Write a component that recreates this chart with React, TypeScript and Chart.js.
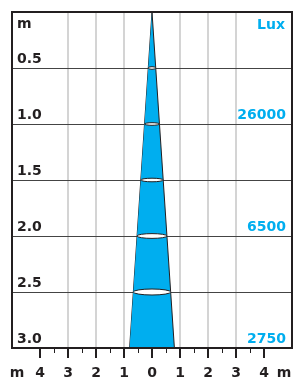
import React, { useEffect, useRef } from 'react';
import { Chart, registerables } from 'chart.js';

Chart.register(...registerables);

// ---- data ----
const distanceValues = [0.5, 1.0, 1.5, 2.0, 2.5, 3.0];
const distanceLabels = ['0.5', '1.0', '1.5', '2.0', '2.5', '3.0'];
const ringDistances = [0.5, 1.0, 1.5, 2.0, 2.5];
const beamDistance = [0, 3];
const beamHalfWidth = [0, 0.8];
const luxDistances = [1, 2, 3];
const luxLabels = ['26000', '6500', '2750'];
const xTickValues = [-4, -3, -2, -1, 0, 1, 2, 3, 4];
const xMinorValues = [-3.5, -2.5, -1.5, -0.5, 0.5, 1.5, 2.5, 3.5];
const xGridValues = [-3, -2, -1, 1, 2, 3];
const unitLabel = 'm';
const luxTitle = 'Lux';

const CYAN = '#00aeef';
const INK = '#231f20';
const FAMILY = '"DejaVu Sans", "Liberation Sans", sans-serif';
const FONT = `bold 14px ${FAMILY}`;

const overlay = {
  id: 'overlay',
  afterDatasetsDraw(chart: any) {
    const { ctx, scales } = chart;
    const x = scales.x;
    const y = scales.y;
    const x0 = x.getPixelForValue(0);
    ctx.save();
    ringDistances.forEach((d) => {
      const hw = (beamHalfWidth[1] * d) / beamDistance[1];
      const rx = x.getPixelForValue(hw) - x0;
      const cy = y.getPixelForValue(d);
      ctx.beginPath();
      ctx.ellipse(x0, cy, rx, Math.max(1.3, rx * 0.16), 0, 0, Math.PI * 2);
      ctx.fillStyle = '#ffffff';
      ctx.fill();
      ctx.lineWidth = 1;
      ctx.strokeStyle = INK;
      ctx.stroke();
    });
    ctx.restore();
  },
  afterDraw(chart: any) {
    const { ctx, chartArea: a, scales } = chart;
    const x = scales.x;
    const y = scales.y;
    ctx.save();
    // frame
    ctx.lineWidth = 2;
    ctx.strokeStyle = INK;
    ctx.strokeRect(a.left, a.top, a.right - a.left, a.bottom - a.top);
    // major ticks
    ctx.lineWidth = 2;
    xTickValues.forEach((v) => {
      const px = Math.round(x.getPixelForValue(v));
      ctx.beginPath();
      ctx.moveTo(px, a.bottom);
      ctx.lineTo(px, a.bottom + 10);
      ctx.stroke();
    });
    // minor ticks
    ctx.lineWidth = 1;
    xMinorValues.forEach((v) => {
      const px = Math.round(x.getPixelForValue(v)) + 0.5;
      ctx.beginPath();
      ctx.moveTo(px, a.bottom);
      ctx.lineTo(px, a.bottom + 5);
      ctx.stroke();
    });
    // labels
    ctx.font = FONT;
    ctx.textBaseline = 'alphabetic';
    ctx.fillStyle = INK;
    ctx.textAlign = 'left';
    ctx.fillText(unitLabel, a.left + 5, a.top + 16);
    distanceValues.forEach((d, i) => {
      ctx.fillText(distanceLabels[i], a.left + 5, y.getPixelForValue(d) - 5);
    });
    ctx.fillStyle = CYAN;
    ctx.textAlign = 'right';
    ctx.fillText(luxTitle, a.right - 7, a.top + 17);
    luxDistances.forEach((d, i) => {
      ctx.fillText(luxLabels[i], a.right - 6, y.getPixelForValue(d) - 5);
    });
    // bottom unit labels
    ctx.fillStyle = INK;
    ctx.textAlign = 'center';
    ctx.fillText(unitLabel, a.left + 5, a.bottom + 29);
    ctx.fillText(unitLabel, a.right - 8, a.bottom + 29);
    ctx.restore();
  },
};

export default function App() {
  const ref = useRef<HTMLCanvasElement | null>(null);

  useEffect(() => {
    document.body.style.margin = '0';
    const canvas = ref.current;
    if (!canvas) return;
    const chart = new Chart(canvas, {
      type: 'line',
      data: {
        datasets: [
          {
            data: [
              { x: beamHalfWidth[0], y: beamDistance[0] },
              { x: beamHalfWidth[1], y: beamDistance[1] },
            ],
            fill: '+1',
            backgroundColor: CYAN,
            borderColor: INK,
            borderWidth: 1,
            pointRadius: 0,
          },
          {
            data: [
              { x: -beamHalfWidth[0], y: beamDistance[0] },
              { x: -beamHalfWidth[1], y: beamDistance[1] },
            ],
            fill: false,
            borderColor: INK,
            borderWidth: 1,
            pointRadius: 0,
          },
        ],
      },
      options: {
        indexAxis: 'y',
        responsive: false,
        animation: false,
        layout: { padding: { left: 12, right: 2, top: 12, bottom: 0 } },
        plugins: { legend: { display: false }, tooltip: { enabled: false } },
        scales: {
          x: {
            type: 'linear',
            position: 'bottom',
            min: -5,
            max: 5,
            afterFit: (s: any) => {
              s.height = 31;
              s.paddingLeft = 0;
              s.paddingRight = 0;
            },
            border: { display: false },
            grid: {
              drawTicks: false,
              lineWidth: 2,
              color: (c: any) =>
                c.tick && xGridValues.includes(c.tick.value) ? '#d4d4d4' : 'rgba(0,0,0,0)',
            },
            ticks: {
              stepSize: 1,
              autoSkip: false,
              maxRotation: 0,
              padding: 17,
              color: INK,
              font: { family: FAMILY, size: 14, weight: 'bold' },
              callback: (v: any) => (xTickValues.includes(v) ? String(Math.abs(v)) : ''),
            },
          },
          y: {
            type: 'linear',
            min: 0,
            max: 3,
            reverse: true,
            afterFit: (s: any) => {
              s.width = 0;
              s.paddingTop = 0;
              s.paddingBottom = 0;
            },
            border: { display: false },
            grid: {
              drawTicks: false,
              lineWidth: 1,
              color: (c: any) =>
                c.tick && ringDistances.includes(c.tick.value) ? '#444444' : 'rgba(0,0,0,0)',
            },
            ticks: { display: false, stepSize: 0.5 },
          },
        },
      },
      plugins: [overlay],
    } as any);
    return () => chart.destroy();
  }, []);

  return (
    <div style={{ width: 294, height: 379 }}>
      <canvas ref={ref} width={294} height={379} style={{ display: 'block' }} />
    </div>
  );
}
